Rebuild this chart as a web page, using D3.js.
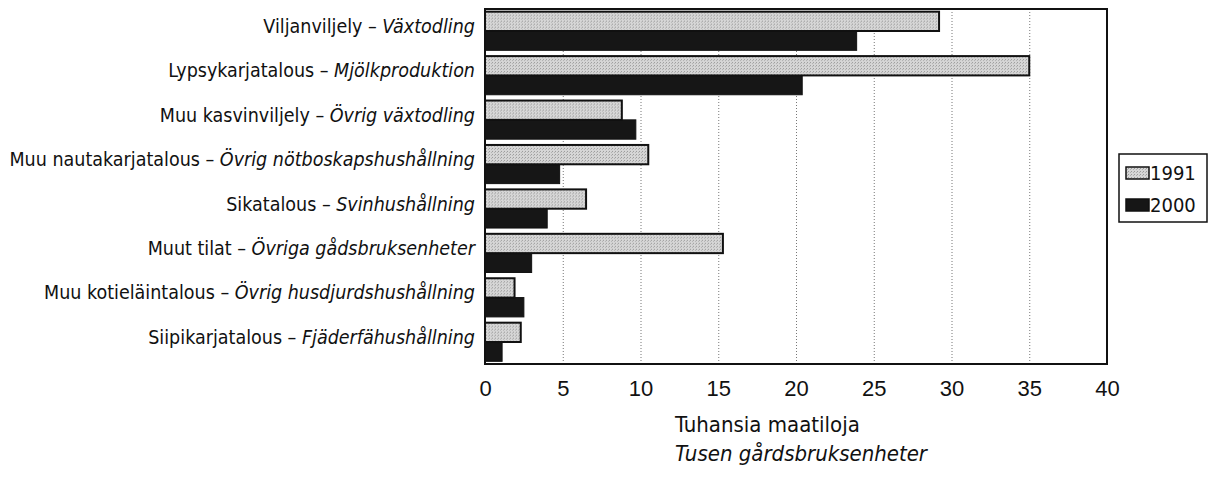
<!DOCTYPE html>
<html>
<head>
<meta charset="utf-8">
<script src="https://cdn.jsdelivr.net/npm/d3@7"></script>
<style>
  body { margin: 0; background: #fff; }
  svg text { font-family: "Liberation Sans Narrow", "DejaVu Sans Condensed", "Liberation Sans", sans-serif; fill: #111; }
</style>
</head>
<body>
<div id="chart"></div>
<script>
// categories (Finnish – Swedish)
const labelsFi = [
  "Viljanviljely", "Lypsykarjatalous", "Muu kasvinviljely", "Muu nautakarjatalous",
  "Sikatalous", "Muut tilat", "Muu kotieläintalous", "Siipikarjatalous"
];
const labelsSv = [
  "Växtodling", "Mjölkproduktion", "Övrig växtodling", "Övrig nötboskapshushållning",
  "Svinhushållning", "Övriga gådsbruksenheter", "Övrig husdjurdshushållning", "Fjäderfähushållning"
];
const years = ["1991", "2000"];
const values1991 = [29.2, 35.0, 8.8, 10.5, 6.5, 15.3, 1.9, 2.3];
const values2000 = [23.9, 20.4, 9.7, 4.8, 4.0, 3.0, 2.5, 1.1];
const xTicks = [0, 5, 10, 15, 20, 25, 30, 35, 40];
const axisTitle = ["Tuhansia maatiloja", "Tusen gårdsbruksenheter"];

const width = 1210, height = 480;
const plotLeft = 485, plotRight = 1107, plotTop = 9, plotBottom = 364;

const svg = d3.select("#chart").append("svg")
  .attr("width", width)
  .attr("height", height);

// stipple pattern for the light bars
const defs = svg.append("defs");
const pat = defs.append("pattern")
  .attr("id", "stipple")
  .attr("width", 3).attr("height", 3)
  .attr("patternUnits", "userSpaceOnUse");
pat.append("rect").attr("width", 3).attr("height", 3).attr("fill", "#d6d6d6");
pat.append("rect").attr("x", 0).attr("y", 0).attr("width", 1).attr("height", 1).attr("fill", "#9a9a9a");
pat.append("rect").attr("x", 2).attr("y", 1).attr("width", 1).attr("height", 1).attr("fill", "#b0b0b0");

const x = d3.scaleLinear().domain([0, 40]).range([plotLeft, plotRight]);

const y = d3.scaleBand()
  .domain(labelsFi)
  .range([plotTop, plotBottom])
  .paddingInner(0.13)
  .paddingOuter(0.06);

const ySub = d3.scaleBand()
  .domain(years)
  .range([0, y.bandwidth()]);

const fills = { "1991": "url(#stipple)", "2000": "#161616" };

// dotted gridlines
svg.append("g")
  .attr("transform", `translate(0,${plotBottom})`)
  .call(d3.axisBottom(x).tickValues(xTicks.slice(1, -1)).tickSize(-(plotBottom - plotTop)).tickFormat(""))
  .call(g => g.select(".domain").remove())
  .call(g => g.selectAll("line")
    .attr("stroke", "#777")
    .attr("stroke-width", 1)
    .attr("stroke-dasharray", "1,2"));

const rows = labelsFi.map((d, i) => ({ fi: d, sv: labelsSv[i], v1991: values1991[i], v2000: values2000[i] }));

const groups = svg.append("g").selectAll("g")
  .data(rows)
  .enter()
  .append("g")
  .attr("transform", d => `translate(0,${y(d.fi)})`);

// 2000 bars first, 1991 on top
groups.append("rect")
  .attr("x", x(0))
  .attr("y", ySub("2000"))
  .attr("width", d => x(d.v2000) - x(0))
  .attr("height", ySub.bandwidth())
  .attr("fill", fills["2000"])
  .attr("stroke", "#111")
  .attr("stroke-width", 1);

groups.append("rect")
  .attr("x", x(0))
  .attr("y", ySub("1991"))
  .attr("width", d => x(d.v1991) - x(0))
  .attr("height", ySub.bandwidth())
  .attr("fill", fills["1991"])
  .attr("stroke", "#111")
  .attr("stroke-width", 2);

// category labels
const lab = svg.append("g").selectAll("text")
  .data(rows)
  .enter()
  .append("text")
  .attr("x", plotLeft - 10)
  .attr("y", d => y(d.fi) + y.bandwidth() / 2 - 5)
  .attr("dy", "0.35em")
  .attr("text-anchor", "end")
  .style("font-size", "19.5px");
lab.append("tspan").text(d => d.fi + " – ");
lab.append("tspan").style("font-style", "italic").text(d => d.sv);

// plot frame
svg.append("rect")
  .attr("x", plotLeft).attr("y", plotTop)
  .attr("width", plotRight - plotLeft).attr("height", plotBottom - plotTop)
  .attr("fill", "none")
  .attr("stroke", "#111")
  .attr("stroke-width", 2);

// x axis tick labels
svg.append("g")
  .attr("transform", `translate(0,${plotBottom})`)
  .call(d3.axisBottom(x).tickValues(xTicks).tickSize(0).tickPadding(16).tickFormat(d3.format("d")))
  .call(g => g.select(".domain").remove())
  .call(g => g.selectAll("text")
    .style("font-size", "22px")
    .style("font-family", "'Liberation Sans', sans-serif")
    .attr("fill", "#111"));

// axis title
svg.append("text")
  .attr("x", 675).attr("y", 432)
  .style("font-size", "22px")
  .text(axisTitle[0]);
svg.append("text")
  .attr("x", 675).attr("y", 461)
  .style("font-size", "22px")
  .style("font-style", "italic")
  .text(axisTitle[1]);

// legend
const legend = svg.append("g");
legend.append("rect")
  .attr("x", 1119).attr("y", 154)
  .attr("width", 88).attr("height", 68)
  .attr("fill", "#fff")
  .attr("stroke", "#111")
  .attr("stroke-width", 1.5);
years.forEach((yr, i) => {
  const gy = 167 + i * 32;
  legend.append("rect")
    .attr("x", 1126).attr("y", gy)
    .attr("width", 23).attr("height", 12)
    .attr("fill", fills[yr])
    .attr("stroke", "#111")
    .attr("stroke-width", 1.5);
  legend.append("text")
    .attr("x", 1150).attr("y", gy + 6)
    .attr("dy", "0.35em")
    .style("font-size", "20px")
    .text(yr);
});
</script>
</body>
</html>
